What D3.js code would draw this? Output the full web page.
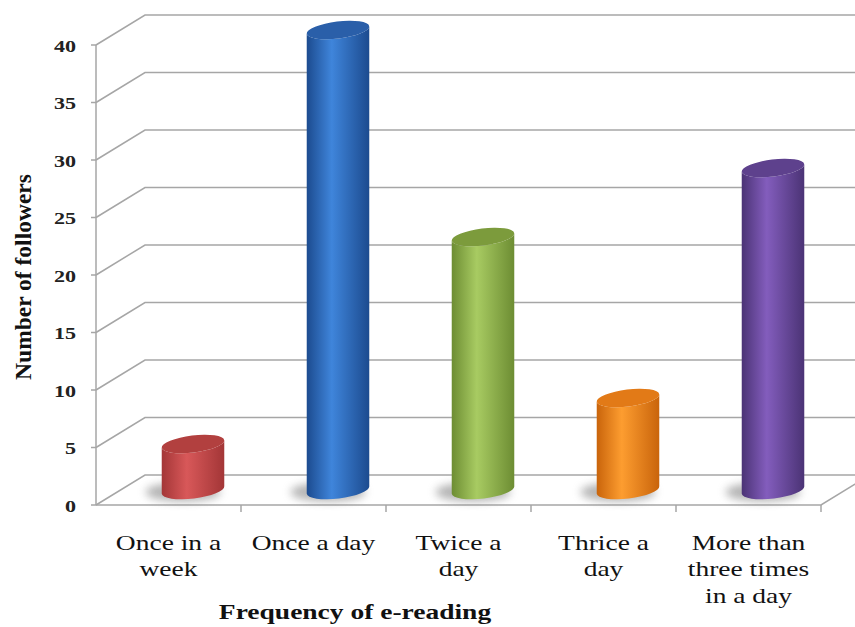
<!DOCTYPE html>
<html>
<head>
<meta charset="utf-8">
<script src="https://cdn.jsdelivr.net/npm/d3@7"></script>
<style>
  body { margin: 0; background: #fff; }
  svg { display: block; font-family: 'Liberation Serif', 'Times New Roman', serif; }
</style>
</head>
<body>
<div id="chart"></div>
<script>
// data
const categories = ['Once in a week', 'Once a day', 'Twice a day', 'Thrice a day', 'More than three times in a day'];
const catLines = [['Once in a', 'week'], ['Once a day'], ['Twice a', 'day'], ['Thrice a', 'day'], ['More than', 'three times', 'in a day']];
const followers = [4, 40, 22, 8, 28];
const yTicks = [0, 5, 10, 15, 20, 25, 30, 35, 40];
const palette = [
  { light: '#d85859', dark: '#a33637', top: '#b2403f' },
  { light: '#3f85db', dark: '#1c4b8f', top: '#2a5fa9' },
  { light: '#a8cb62', dark: '#6d8d33', top: '#7c9b3c' },
  { light: '#fd9d30', dark: '#c9640b', top: '#e27a17' },
  { light: '#835dbd', dark: '#4b3375', top: '#5e418d' }
];

const width = 855, height = 627;
const depthX = 49, depthY = -30;
const stretch = 1.25; // text in the picture is drawn wide

const svg = d3.select('#chart').append('svg')
  .attr('width', width)
  .attr('height', height);

const x = d3.scaleBand().domain(categories).range([96, 821]).padding(0);
const y = d3.scaleLinear().domain([0, 40]).range([505, 45]);

const defs = svg.append('defs');
palette.forEach((c, i) => {
  const g = defs.append('linearGradient').attr('id', 'cyl' + i)
    .attr('x1', '0%').attr('x2', '100%').attr('y1', '0%').attr('y2', '0%');
  g.append('stop').attr('offset', '0%').attr('stop-color', c.dark);
  g.append('stop').attr('offset', '40%').attr('stop-color', c.light);
  g.append('stop').attr('offset', '100%').attr('stop-color', c.dark);
});
defs.append('filter').attr('id', 'blur')
  .attr('x', '-50%').attr('y', '-50%').attr('width', '200%').attr('height', '200%')
  .append('feGaussianBlur').attr('stdDeviation', 4);

// gridlines: diagonal from front axis to back wall, then across
const grid = svg.append('g').attr('stroke', '#a6a6a6').attr('stroke-width', 1.5).attr('fill', 'none');
yTicks.forEach(t => {
  grid.append('path')
    .attr('d', `M96,${y(t)}L${96 + depthX},${y(t) + depthY}L${width},${y(t) + depthY}`);
});

// front axis and floor
const axis = svg.append('g').attr('stroke', '#a6a6a6').attr('stroke-width', 1.5).attr('fill', 'none');
axis.append('line').attr('x1', 96).attr('x2', 96).attr('y1', y(40)).attr('y2', y(0));
yTicks.forEach(t => {
  axis.append('line').attr('x1', 91).attr('x2', 96).attr('y1', y(t)).attr('y2', y(t));
});
const x1 = x.range()[1];
axis.append('path').attr('d', `M96,${y(0)}L${x1},${y(0)}L${x1 + depthX},${y(0) + depthY}`);
categories.forEach(c => {
  const xe = x(c) + x.bandwidth();
  axis.append('line').attr('x1', xe).attr('x2', xe).attr('y1', y(0)).attr('y2', y(0) + 7);
});

// y tick labels
svg.append('g').selectAll('text').data(yTicks).join('text')
  .attr('transform', d => `translate(76,${y(d) + 6.5}) scale(${stretch + 0.05},1)`)
  .attr('text-anchor', 'end')
  .attr('font-weight', 'bold')
  .attr('font-size', 17)
  .attr('fill', '#222')
  .text(d => d);

// cylinders
const rx = 31.5, ry = 8.5, rot = -7;
const a = rot * Math.PI / 180;
const ex = rx * Math.cos(a), ey = rx * Math.sin(a);
const bars = svg.append('g');
categories.forEach((c, i) => {
  const cx = x(c) + x.bandwidth() / 2 + depthX / 2;
  const yb = y(0) + depthY / 2;
  const yt = y(followers[i]) + depthY / 2;
  // shadow on the floor
  bars.append('ellipse')
    .attr('cx', cx - 10).attr('cy', yb + 2)
    .attr('rx', rx + 6).attr('ry', ry + 1)
    .attr('fill', '#777').attr('opacity', 0.55)
    .attr('filter', 'url(#blur)');
  const d = `M${cx - ex},${yt - ey}L${cx - ex},${yb - ey}` +
    `A${rx},${ry} ${rot} 0 0 ${cx + ex},${yb + ey}` +
    `L${cx + ex},${yt + ey}` +
    `A${rx},${ry} ${rot} 0 1 ${cx - ex},${yt - ey}Z`;
  bars.append('path').attr('d', d).attr('fill', `url(#cyl${i})`);
  bars.append('ellipse')
    .attr('cx', cx).attr('cy', yt)
    .attr('rx', rx).attr('ry', ry)
    .attr('transform', `rotate(${rot},${cx},${yt})`)
    .attr('fill', palette[i].top);
});

// category labels
const labels = svg.append('g').attr('font-size', 22).attr('fill', '#111').attr('text-anchor', 'middle');
categories.forEach((c, i) => {
  const t = labels.append('text')
    .attr('transform', `translate(${x(c) + x.bandwidth() / 2},550) scale(${stretch},1)`);
  catLines[i].forEach((ln, j) => {
    t.append('tspan').attr('x', 0).attr('y', j * 26.5).text(ln);
  });
});

// axis titles
svg.append('text')
  .attr('transform', `translate(355,619) scale(${stretch},1)`)
  .attr('text-anchor', 'middle')
  .attr('font-weight', 'bold').attr('font-size', 22)
  .attr('fill', '#111')
  .text('Frequency of e-reading');

svg.append('text')
  .attr('transform', 'translate(31,277) rotate(-90)')
  .attr('text-anchor', 'middle')
  .attr('font-weight', 'bold').attr('font-size', 23.5)
  .attr('fill', '#111')
  .text('Number of followers');
</script>
</body>
</html>
